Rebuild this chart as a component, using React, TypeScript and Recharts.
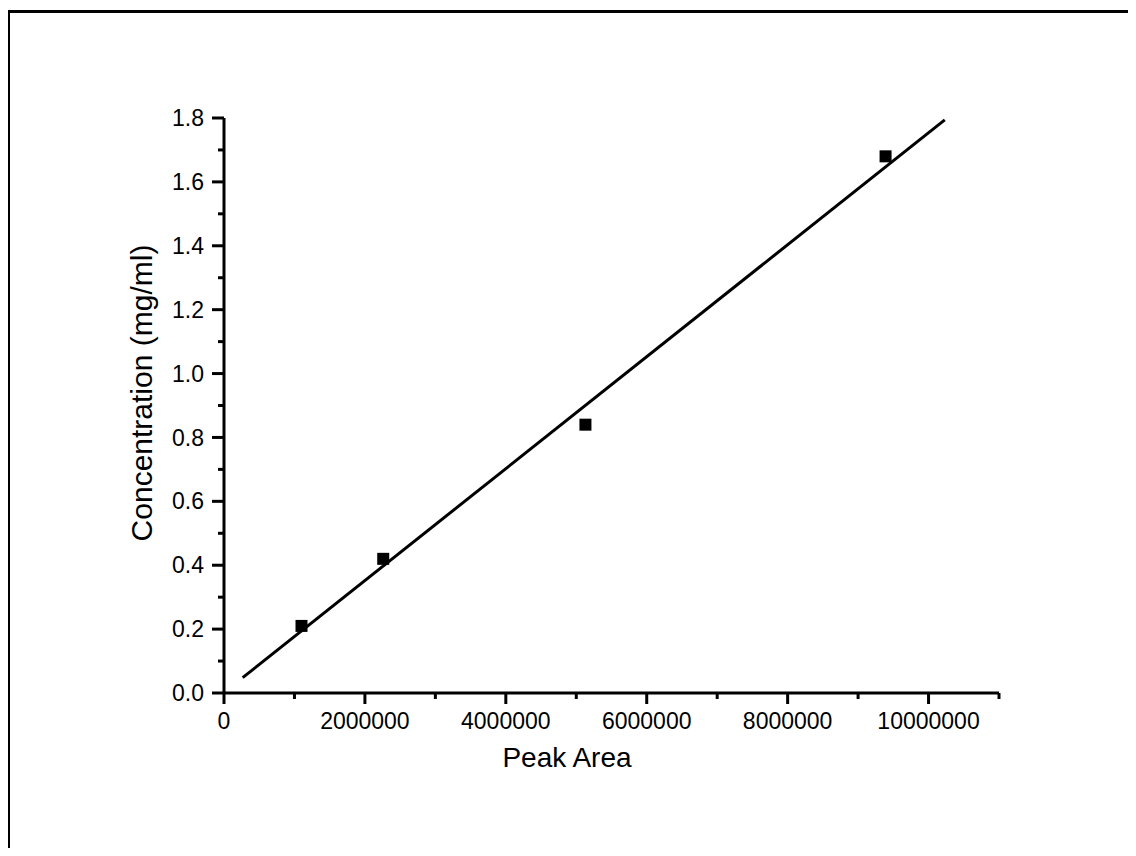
import { ScatterChart, Scatter, XAxis, YAxis, Label } from "recharts";

const peakArea = [1100000, 2260000, 5130000, 9390000];
const concentration = [0.21, 0.42, 0.84, 1.68];

// fitted calibration line, two end points
const fitArea = [265000, 10230000];
const fitConc = [0.048, 1.794];

const xTicks = [0, 1000000, 2000000, 3000000, 4000000, 5000000, 6000000, 7000000, 8000000, 9000000, 10000000, 11000000];
const xLabelled = [0, 2000000, 4000000, 6000000, 8000000, 10000000];
const yTicks = [0, 0.1, 0.2, 0.3, 0.4, 0.5, 0.6, 0.7, 0.8, 0.9, 1.0, 1.1, 1.2, 1.3, 1.4, 1.5, 1.6, 1.7, 1.8];
const yLabelled = [0, 0.2, 0.4, 0.6, 0.8, 1.0, 1.2, 1.4, 1.6, 1.8];

const points = peakArea.map((x, i) => ({ x, y: concentration[i] }));
const fit = fitArea.map((x, i) => ({ x, y: fitConc[i] }));

const FONT = "'Liberation Sans', Arial, sans-serif";
const TICK_SIZE = 12;
const TICK_MARGIN = 8;

function XTick(props: any) {
  const { x, y, payload } = props;
  const axisY = y - TICK_SIZE - TICK_MARGIN;
  const major = xLabelled.includes(payload.value);
  return (
    <g>
      <line x1={x} x2={x} y1={axisY} y2={axisY + (major ? 11 : 6)} stroke="#000" strokeWidth={3} />
      {major && (
        <text x={x} y={y} dy="0.71em" textAnchor="middle" fontSize={23} fontFamily={FONT} fill="#000">
          {payload.value}
        </text>
      )}
    </g>
  );
}

function YTick(props: any) {
  const { x, y, payload } = props;
  const axisX = x + TICK_SIZE + TICK_MARGIN;
  const major = yLabelled.some((v) => Math.abs(v - payload.value) < 1e-6);
  return (
    <g>
      <line x1={axisX} x2={axisX - (major ? 12 : 6)} y1={y} y2={y} stroke="#000" strokeWidth={3} />
      {major && (
        <text x={x} y={y} dy="0.355em" textAnchor="end" fontSize={23} fontFamily={FONT} fill="#000">
          {Number(payload.value).toFixed(1)}
        </text>
      )}
    </g>
  );
}

const Square = (props: any) => {
  const { cx, cy } = props;
  return <rect x={cx - 6} y={cy - 6} width={12} height={12} fill="#000" />;
};

export default function App() {
  return (
    <div style={{ position: "relative", width: 1128, height: 840 }}>
      <div
        style={{
          position: "absolute",
          left: -1,
          top: 2,
          width: 1129,
          height: 838,
          borderTop: "3px solid #000",
          borderLeft: "3px solid #000",
          boxSizing: "border-box",
        }}
      />
      <div style={{ position: "absolute", left: 0, top: 0 }}>
        <ScatterChart width={1128} height={840} margin={{ top: 110, right: 137, bottom: 95, left: 156 }}>
          <XAxis
            type="number"
            dataKey="x"
            domain={[0, 11000000]}
            ticks={xTicks}
            interval={0}
            allowDataOverflow
            height={60}
            tickSize={TICK_SIZE}
            tickMargin={TICK_MARGIN}
            tickLine={false}
            tick={<XTick />}
            axisLine={{ stroke: "#000", strokeWidth: 3 }}
          >
            <Label
              content={() => (
                <text x={559} y={759} textAnchor="middle" fontSize={28} fontFamily={FONT} fill="#000">
                  Peak Area
                </text>
              )}
            />
          </XAxis>
          <YAxis
            type="number"
            dataKey="y"
            domain={[0, 1.8]}
            ticks={yTicks}
            interval={0}
            allowDataOverflow
            width={60}
            tickSize={TICK_SIZE}
            tickMargin={TICK_MARGIN}
            tickLine={false}
            tick={<YTick />}
            axisLine={{ stroke: "#000", strokeWidth: 3 }}
          >
            <Label
              content={() => (
                <text
                  x={0}
                  y={0}
                  transform="translate(144, 385) rotate(-90)"
                  textAnchor="middle"
                  fontSize={30}
                  fontFamily={FONT}
                  fill="#000"
                >
                  Concentration (mg/ml)
                </text>
              )}
            />
          </YAxis>
          <Scatter
            data={fit}
            line={{ stroke: "#000", strokeWidth: 3 }}
            shape={() => <g />}
            isAnimationActive={false}
          />
          <Scatter data={points} shape={<Square />} isAnimationActive={false} />
        </ScatterChart>
      </div>
    </div>
  );
}
